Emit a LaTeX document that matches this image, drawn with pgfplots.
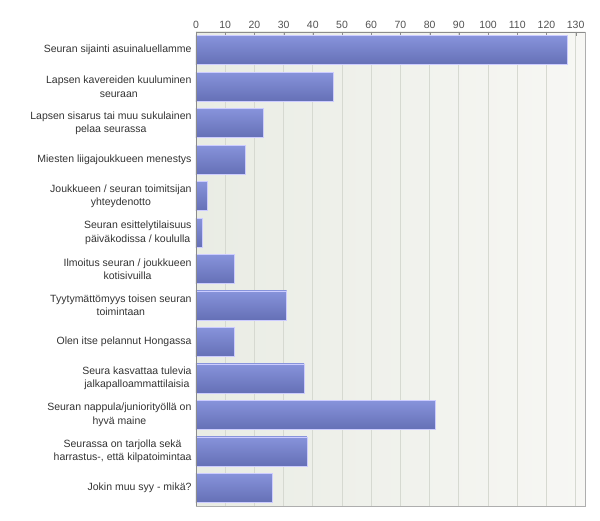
\documentclass[border=0pt]{standalone}
\usepackage{fontspec}
\setmainfont{Liberation Sans}
\usepackage{pgfplots}
\pgfplotsset{compat=1.18}
\definecolor{bartop}{HTML}{8793DB}
\definecolor{barbot}{HTML}{6570B6}
\definecolor{bgleft}{HTML}{E9ECE4}
\definecolor{bgright}{HTML}{F7F7F4}
\definecolor{gridc}{HTML}{D6D9D1}
\definecolor{axc}{HTML}{8C8C8C}
\definecolor{txt}{HTML}{333333}
\pgfplotsset{onebar/.style={draw=white!80!blue, line width=0.6pt, top color=bartop, bottom color=barbot, bar shift=0pt}}
\begin{document}
\begin{tikzpicture}
\begin{axis}[
  scale only axis,
  width=389pt, height=474pt,
  xbar, bar width=29pt,
  xmin=0, xmax=133.2,
  ymin=-0.5, ymax=12.5,
  y dir=reverse,
  xtick={0,10,...,130},
  xticklabel pos=upper,
  xtick pos=upper,
  tick align=inside,
  major tick length=4pt,
  x tick style={axc},
  ytick={0,...,12},
  ytick style={draw=none},
  yticklabels={
    Seuran sijainti asuinaluellamme,
    {Lapsen kavereiden kuuluminen\\seuraan},
    {Lapsen sisarus tai muu sukulainen\\pelaa seurassa},
    Miesten liigajoukkueen menestys,
    {Joukkueen / seuran toimitsijan\\yhteydenotto},
    {Seuran esittelytilaisuus\\päiväkodissa / koululla},
    {Ilmoitus seuran / joukkueen\\kotisivuilla},
    {Tyytymättömyys toisen seuran\\toimintaan},
    Olen itse pelannut Hongassa,
    {Seura kasvattaa tulevia\\jalkapalloammattilaisia},
    {Seuran nappula/juniorityöllä on\\hyvä maine},
    {Seurassa on tarjolla sekä\\harrastus-, että kilpatoimintaa},
    Jokin muu syy - mikä?
  },
  yticklabel style={align=center, font=\fontsize{10.5}{13.5}\selectfont, text=txt, xshift=-1pt},
  xticklabel style={font=\fontsize{10.5}{13}\selectfont, text=txt!85},
  /pgf/number format/assume math mode=true,
  xmajorgrids,
  grid style={gridc, line width=0.8pt},
  axis line style={draw=none},
  axis background/.style={left color=bgleft, right color=bgright},
  clip=false,
]
\addplot[onebar] coordinates {(127,0)};
\addplot[onebar] coordinates {(47,1)};
\addplot[onebar] coordinates {(23,2)};
\addplot[onebar] coordinates {(17,3)};
\addplot[onebar] coordinates {(4,4)};
\addplot[onebar] coordinates {(2,5)};
\addplot[onebar] coordinates {(13,6)};
\addplot[onebar] coordinates {(31,7)};
\addplot[onebar] coordinates {(13,8)};
\addplot[onebar] coordinates {(37,9)};
\addplot[onebar] coordinates {(82,10)};
\addplot[onebar] coordinates {(38,11)};
\addplot[onebar] coordinates {(26,12)};
\draw[axc!70, line width=0.8pt] (rel axis cs:1,1) -- (rel axis cs:1,0) -- (rel axis cs:0,0);
\draw[axc, line width=0.8pt] (rel axis cs:0,0) -- (rel axis cs:0,1) -- (rel axis cs:1,1);
\end{axis}
\path[use as bounding box] (-196pt,-15pt) rectangle (404pt,506pt);
\end{tikzpicture}
\end{document}
